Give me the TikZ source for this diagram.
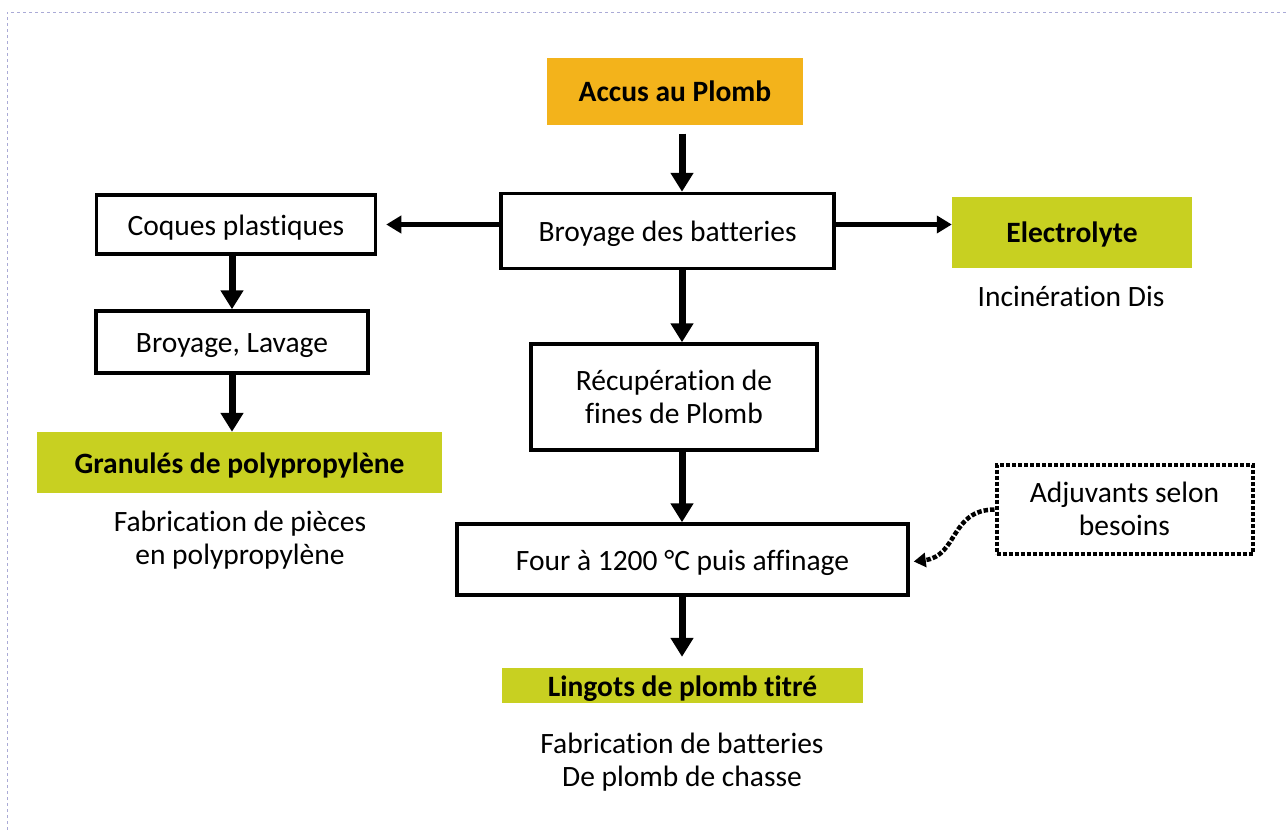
\documentclass[tikz,border=0pt]{standalone}
\usepackage{fontspec}
\setmainfont[Ligatures=NoCommon]{Carlito}
\usetikzlibrary{arrows.meta}
\definecolor{accorange}{HTML}{F3B31B}
\definecolor{accgreen}{HTML}{C8D021}
\definecolor{frameblue}{HTML}{AAAAD6}
\begin{document}
\begin{tikzpicture}[x=1pt,y=-1pt,
  txt/.style={font=\fontsize{29.5}{33}\selectfont, align=center, inner sep=0pt},
  oneline/.style={text height=24pt, text depth=3pt},
  procbox/.style={txt, draw=black, line width=3.5pt, fill=white},
  colbox/.style={txt, font=\fontsize{29.5}{33}\selectfont\bfseries},
  bigarrow/.style={line width=7pt, -{Triangle[width=22pt,length=19pt]}},
  sidearrow/.style={line width=5pt, -{Triangle[width=17pt,length=15pt]}},
  dotarrow/.style={line width=4.5pt, dotted, -{Triangle[width=14pt,length=12pt]}}
]
\useasboundingbox (0,0) rectangle (1286,830);
\draw[frameblue, line width=1pt, dashed] (7,830) -- (7,12) -- (1286,12);

\coordinate (cx) at (682,0);

\node[colbox, oneline, fill=accorange, minimum width=256pt, minimum height=67pt] (accus) at (675,91) {Accus au Plomb};
\node[procbox, oneline, minimum width=333pt, minimum height=75pt] (broy) at (667.5,231) {Broyage des batteries};
\node[procbox, oneline, minimum width=279pt, minimum height=59pt] (coques) at (236,224.5) {Coques plastiques};
\node[colbox, oneline, fill=accgreen, minimum width=240pt, minimum height=71pt] (elec) at (1072,232) {Electrolyte};
\node[txt] (incin) at (1071,296) {Incinération Dis};
\node[procbox, oneline, minimum width=272pt, minimum height=62pt] (lavage) at (232,342) {Broyage, Lavage};
\node[colbox, oneline, fill=accgreen, minimum width=405pt, minimum height=61pt] (granul) at (239.5,462.5) {Granulés de polypropylène};
\node[txt] (fabpp) at (240,540) {Fabrication de pièces\\en polypropylène};
\node[procbox, minimum width=286pt, minimum height=106pt] (recup) at (674,397) {Récupération de\\fines de Plomb};
\node[procbox, oneline, minimum width=451pt, minimum height=71pt] (four) at (682.5,559.5) {Four à 1200 °C puis affinage};
\node[txt, draw=black, line width=4pt, dotted, minimum width=256pt, minimum height=89pt] (adjuv) at (1124.5,509) {Adjuvants selon\\besoins};
\node[colbox, oneline, fill=accgreen, minimum width=361pt, minimum height=35pt] (lingots) at (682.5,685.5) {Lingots de plomb titré};
\node[txt] (fabbat) at (682,762) {Fabrication de batteries\\De plomb de chasse};

\draw[bigarrow] ([yshift=-9pt]accus.south -| cx) -- (broy.north -| cx);
\draw[bigarrow] (broy.south -| cx) -- (recup.north -| cx);
\draw[bigarrow] (recup.south -| cx) -- (four.north -| cx);
\draw[bigarrow] (four.south -| cx) -- ([yshift=11pt]lingots.north -| cx);
\draw[bigarrow] (coques.south -| lavage.center) -- (lavage.north);
\draw[bigarrow] (lavage.south) -- (lavage.south |- granul.north);
\draw[sidearrow] (broy.west |- coques.center) -- ([xshift=9pt]coques.east);
\draw[sidearrow] (broy.east |- coques.center) -- (elec.west |- coques.center);
\draw[dotarrow] ([yshift=-0.5pt]adjuv.west) .. controls (950,510) and (958,556) .. ([xshift=4pt,yshift=-2pt]four.east);
\end{tikzpicture}
\end{document}
